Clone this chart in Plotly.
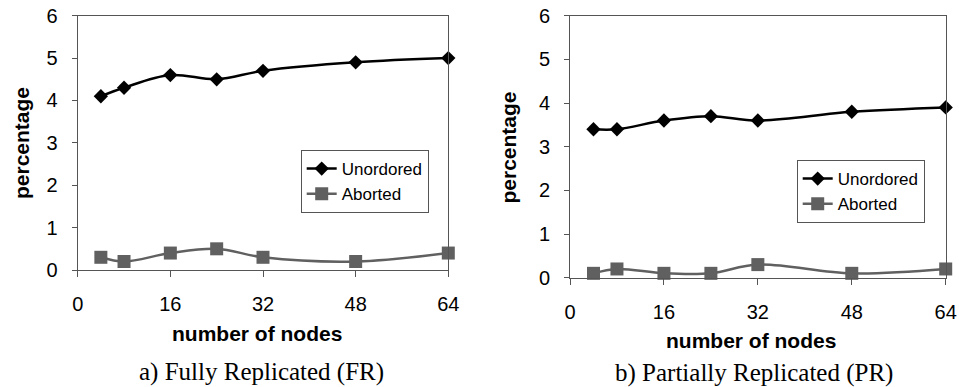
import plotly.graph_objects as go

nodes = [4, 8, 16, 24, 32, 48, 64]
fr_unordered = [4.1, 4.3, 4.6, 4.5, 4.7, 4.9, 5.0]
fr_aborted = [0.3, 0.2, 0.4, 0.5, 0.3, 0.2, 0.4]
pr_unordered = [3.4, 3.4, 3.6, 3.7, 3.6, 3.8, 3.9]
pr_aborted = [0.1, 0.2, 0.1, 0.1, 0.3, 0.1, 0.2]
x_ticks = [0, 16, 32, 48, 64]
y_ticks = [0, 1, 2, 3, 4, 5, 6]
captions = ["a) Fully Replicated (FR)", "b) Partially Replicated (PR)"]

W, H = 959, 387
BLACK = "#000000"
GRAY = "#606060"
AX = "#555555"

fig = go.Figure()

def add_series(xa, ya, legend, unord, abort):
    fig.add_trace(go.Scatter(
        x=nodes, y=unord, name="Unordored", xaxis=xa, yaxis=ya, legend=legend,
        mode="lines+markers", cliponaxis=False,
        line=dict(color=BLACK, width=2.5, shape="spline", smoothing=1),
        marker=dict(symbol="diamond", size=11, color=BLACK)))
    fig.add_trace(go.Scatter(
        x=nodes, y=abort, name="Aborted", xaxis=xa, yaxis=ya, legend=legend,
        mode="lines+markers", cliponaxis=False,
        line=dict(color=GRAY, width=2.5, shape="spline", smoothing=1),
        marker=dict(symbol="square", size=13, color=GRAY)))

add_series("x", "y", "legend", fr_unordered, fr_aborted)
add_series("x2", "y2", "legend2", pr_unordered, pr_aborted)

def px_x(p):
    return p / W

def px_y(p):
    return 1 - p / H

tickfont = dict(family="Liberation Sans, Arial", size=20, color="black")

def xaxis(dom, anchor):
    return dict(domain=dom, anchor=anchor, range=[0, 64], tickvals=x_ticks,
                showgrid=False, zeroline=False, showline=True, linecolor=AX,
                linewidth=1, mirror=True, ticks="outside", ticklen=6,
                tickcolor=AX, tickfont=tickfont, ticklabelstandoff=10,
                automargin=False)

def yaxis(dom, anchor):
    return dict(domain=dom, anchor=anchor, range=[0, 6], tickvals=y_ticks,
                showgrid=False, zeroline=False, showline=True, linecolor=AX,
                linewidth=1, mirror=True, ticks="outside", ticklen=5,
                tickcolor=AX, tickfont=tickfont, ticklabelstandoff=10,
                automargin=False)

legfont = dict(family="Liberation Sans, Arial", size=17, color="black")

fig.update_layout(
    width=W, height=H, margin=dict(l=0, r=0, t=0, b=0, autoexpand=False),
    paper_bgcolor="white", plot_bgcolor="white",
    xaxis=xaxis([px_x(77.7), px_x(448.3)], "y"),
    yaxis=yaxis([px_y(270), px_y(15.7)], "x"),
    xaxis2=xaxis([px_x(570), px_x(945.7)], "y2"),
    yaxis2=yaxis([px_y(277.7), px_y(15.7)], "x2"),
    legend=dict(x=px_x(300.7), y=px_y(150), xanchor="left", yanchor="top",
                bordercolor=AX, borderwidth=1, bgcolor="white", font=legfont,
                tracegroupgap=0),
    legend2=dict(x=px_x(796.7), y=px_y(160), xanchor="left", yanchor="top",
                 bordercolor=AX, borderwidth=1, bgcolor="white", font=legfont,
                 tracegroupgap=0),
    showlegend=True,
)

titlefont = dict(family="Liberation Sans, Arial", size=21, color="black")
capfont = dict(family="Liberation Serif, Times New Roman", size=25, color="black")

annots = [
    dict(text="<b>number of nodes</b>", x=px_x(257), y=px_y(333), font=titlefont),
    dict(text="<b>number of nodes</b>", x=px_x(751), y=px_y(340), font=titlefont),
    dict(text="<b>percentage</b>", x=px_x(21), y=px_y(143), font=titlefont, textangle=-90),
    dict(text="<b>percentage</b>", x=px_x(507.5), y=px_y(147), font=titlefont, textangle=-90),
    dict(text=captions[0], x=px_x(261), y=px_y(372), font=capfont),
    dict(text=captions[1], x=px_x(754), y=px_y(373), font=capfont),
]
for a in annots:
    fig.add_annotation(xref="paper", yref="paper", showarrow=False,
                       xanchor="center", yanchor="middle", **a)

fig.write_html("out.html")
